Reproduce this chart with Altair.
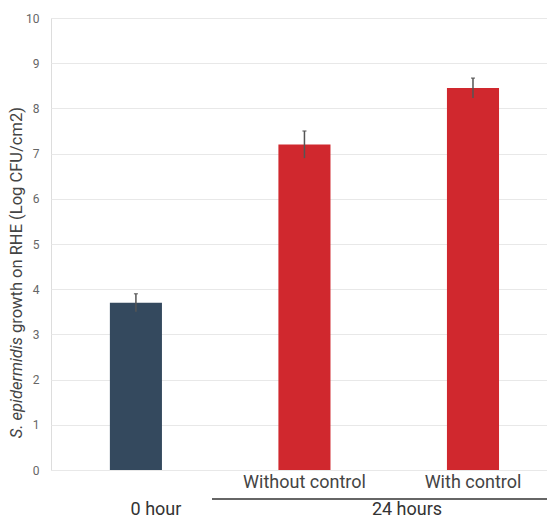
import altair as alt
import pandas as pd

categories = ["0 hour", "Without control", "With control"]
values = [3.7, 7.2, 8.45]
errors = [0.2, 0.3, 0.22]
colors = ["#34495E", "#D0282E", "#D0282E"]
group_labels = ["0 hour", "24 hours"]
y_title_italic = "S. epidermidis"
y_title_rest = "growth on RHE (Log CFU/cm2)"

df = pd.DataFrame({
    "cat": categories,
    "val": values,
    "lo": [v - e for v, e in zip(values, errors)],
    "hi": [v + e for v, e in zip(values, errors)],
    "color": colors,
})

FONT = "Roboto"
W, H = 496, 452

xscale = alt.Scale(domain=categories, paddingInner=0.691, paddingOuter=0.317, align=0.551)
xenc = alt.X("cat:N", scale=xscale, sort=categories,
             axis=alt.Axis(title=None, domain=False, ticks=False, labelAngle=0,
                           labelFontSize=18, labelColor="#444", labelFont=FONT,
                           labelPadding=3,
                           labelExpr="datum.value == '0 hour' ? '' : datum.value"))
yscale = alt.Scale(domain=[0, 10])

base = alt.Chart(df)

bars = base.mark_bar().encode(
    x=xenc,
    y=alt.Y("val:Q", scale=yscale,
            axis=alt.Axis(title=None, values=list(range(0, 11)), domain=False, ticks=False,
                          labelFontSize=12, labelColor="#666", labelFont=FONT,
                          labelPadding=12, gridColor="#e8e8e8", gridWidth=1)),
    color=alt.Color("color:N", scale=None),
)

err = base.mark_rule(color="#555", strokeWidth=1.5).encode(
    x=alt.X("cat:N", scale=xscale, sort=categories),
    y=alt.Y("lo:Q", scale=yscale),
    y2="hi:Q",
)

cap = base.mark_tick(color="#555", thickness=1.5, size=4, orient="horizontal").encode(
    x=alt.X("cat:N", scale=xscale, sort=categories),
    y=alt.Y("hi:Q", scale=yscale),
)

groups = alt.Chart(pd.DataFrame({"t": group_labels, "px": [105, 356]})).mark_text(
    font=FONT, fontSize=18, color="#333", baseline="alphabetic"
).encode(
    x=alt.X("px:Q", scale=None),
    y=alt.value(497),
    text="t:N",
)

bracket = alt.Chart(pd.DataFrame({"a": [0]})).mark_rule(color="#333", strokeWidth=1.5).encode(
    x=alt.value(161), x2=alt.value(W), y=alt.value(481)
)

t1 = alt.Chart(pd.DataFrame({"t": [y_title_italic]})).mark_text(
    font=FONT, fontSize=16.5, fontStyle="italic", color="#444", angle=270,
    align="right", baseline="middle"
).encode(x=alt.value(-34), y=alt.value(319), text="t:N")

t2 = alt.Chart(pd.DataFrame({"t": [y_title_rest]})).mark_text(
    font=FONT, fontSize=16.5, color="#444", angle=270,
    align="left", baseline="middle"
).encode(x=alt.value(-34), y=alt.value(315), text="t:N")

chart = alt.layer(bars, err, cap, groups, bracket, t1, t2).properties(
    width=W, height=H,
    autosize=alt.AutoSizeParams(type="none"),
    padding={"left": 43, "top": 10, "right": 0, "bottom": 49},
).configure_view(stroke=None).configure(background="white")

chart.save("out.html", embed_options={"renderer": "svg", "actions": False})
